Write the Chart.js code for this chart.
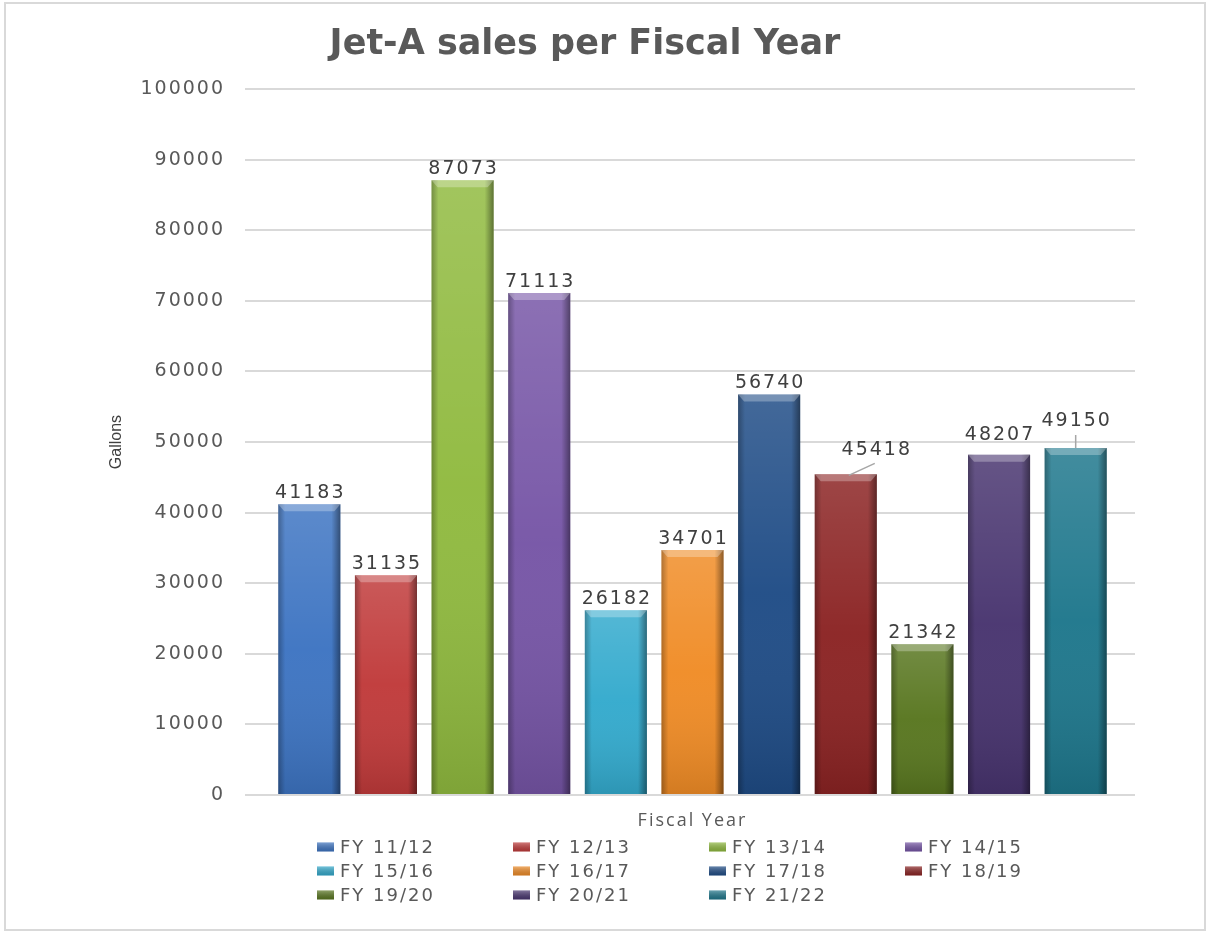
<!DOCTYPE html>
<html><head><meta charset="utf-8">
<script src="https://cdn.jsdelivr.net/npm/chart.js@4.4.1/dist/chart.umd.min.js"></script>
<style>html,body{margin:0;padding:0;background:#fff}#wrap{position:relative;width:1212px;height:933px}</style>
</head><body><div id="wrap"><canvas id="c"></canvas></div>
<script>
const categories = ['FY 11/12','FY 12/13','FY 13/14','FY 14/15','FY 15/16','FY 16/17','FY 17/18','FY 18/19','FY 19/20','FY 20/21','FY 21/22'];
const gallons = [41183, 31135, 87073, 71113, 26182, 34701, 56740, 45418, 21342, 48207, 49150];
const barColors = ['#3d74c2','#c03a3a','#90ba3f','#7655a6','#33aacd','#f08c26','#1f4c86','#8b2323','#58761f','#48346f','#1e778c'];
const yMin = 0, yMax = 100000, yStep = 10000;
const chartTitle = 'Jet-A sales per Fiscal Year';
const xTitle = 'Fiscal Year';
const yTitle = 'Gallons';

const GRID = '#d9d9d9';
const TXT = '#595959';

// label placement tweaks relative to each bar's top (drawn from library element positions)
const labelTweaks = {
  7: {dx: 30, dy: -13, line: [[3, 1], [29, -11]]},
  9: {dy: -9},
  10: {dy: -16, line: [[0, 0], [0, -13]]}
};

const barStyle = {
  id: 'barStyle',
  beforeDraw(chart) { chart.ctx.letterSpacing = '0px'; },
  afterDatasetsDraw(chart) {
    const ctx = chart.ctx;
    const meta = chart.getDatasetMeta(0);
    ctx.save();
    meta.data.forEach((el) => {
      const w = el.width, l = el.x - w / 2, r = el.x + w / 2, t = el.y, b = el.base;
      let g = ctx.createLinearGradient(0, t, 0, b);
      g.addColorStop(0, 'rgba(255,255,255,0.16)');
      g.addColorStop(0.5, 'rgba(255,255,255,0.03)');
      g.addColorStop(1, 'rgba(0,0,0,0.12)');
      ctx.fillStyle = g; ctx.fillRect(l, t, w, b - t);
      g = ctx.createLinearGradient(l, 0, l + 7, 0);
      g.addColorStop(0, 'rgba(0,0,0,0.28)'); g.addColorStop(1, 'rgba(0,0,0,0)');
      ctx.fillStyle = g; ctx.fillRect(l, t, 7, b - t);
      g = ctx.createLinearGradient(r - 9, 0, r, 0);
      g.addColorStop(0, 'rgba(0,0,0,0)'); g.addColorStop(1, 'rgba(0,0,0,0.42)');
      ctx.fillStyle = g; ctx.fillRect(r - 9, t, 9, b - t);
      ctx.beginPath();
      ctx.moveTo(l, t); ctx.lineTo(r, t); ctx.lineTo(r - 6, t + 7); ctx.lineTo(l + 6, t + 7); ctx.closePath();
      ctx.fillStyle = 'rgba(255,255,255,0.28)'; ctx.fill();
    });
    // data labels
    ctx.letterSpacing = '2px';
    ctx.font = '19px "DejaVu Sans"';
    ctx.fillStyle = '#404040';
    ctx.textAlign = 'center';
    ctx.textBaseline = 'alphabetic';
    meta.data.forEach((el, i) => {
      const tw = labelTweaks[i] || {};
      const dx = tw.dx || 0, dy = tw.dy || 0;
      ctx.fillText(String(gallons[i]), el.x + dx + 1, el.y - 6 + dy);
      if (tw.line) {
        ctx.strokeStyle = '#a6a6a6'; ctx.lineWidth = 1.5;
        ctx.beginPath();
        ctx.moveTo(el.x + tw.line[0][0], el.y + tw.line[0][1]);
        ctx.lineTo(el.x + tw.line[1][0], el.y + tw.line[1][1]);
        ctx.stroke();
      }
    });
    ctx.restore();
    ctx.letterSpacing = '2px';
  },
  afterDraw(chart) {
    const ctx = chart.ctx;
    ctx.save();
    // legend
    const cols = [317, 513, 709, 905], rows = [847, 871, 895];
    ctx.letterSpacing = '2px';
    ctx.font = '18px "DejaVu Sans"';
    ctx.textAlign = 'left';
    ctx.textBaseline = 'middle';
    categories.forEach((c, i) => {
      const x = cols[i % 4], y = rows[Math.floor(i / 4)];
      const g = ctx.createLinearGradient(0, y - 5, 0, y + 5);
      g.addColorStop(0, 'rgba(255,255,255,0.35)'); g.addColorStop(1, 'rgba(0,0,0,0.15)');
      ctx.fillStyle = barColors[i]; ctx.fillRect(x, y - 4.5, 17, 9);
      ctx.fillStyle = g; ctx.fillRect(x, y - 4.5, 17, 9);
      ctx.fillStyle = TXT;
      ctx.fillText(c, x + 23, y + 1);
    });
    // frame
    ctx.letterSpacing = '0px';
    ctx.strokeStyle = '#d9d9d9'; ctx.lineWidth = 2;
    ctx.strokeRect(5, 3, 1200, 927);
    ctx.restore();
    ctx.letterSpacing = '0px';
  }
};

new Chart(document.getElementById('c'), {
  type: 'bar',
  plugins: [barStyle],
  data: {
    labels: categories,
    datasets: [{
      label: 'Gallons',
      data: gallons,
      backgroundColor: barColors,
      borderWidth: 0,
      categoryPercentage: 1,
      barPercentage: 0.81
    }]
  },
  options: {
    responsive: true,
    maintainAspectRatio: false,
    animation: false,
    layout: {padding: {left: 0, right: 42, top: 0, bottom: 0}},
    plugins: {
      legend: {display: false},
      tooltip: {enabled: false},
      title: {
        display: true,
        text: chartTitle,
        color: TXT,
        font: {family: '"DejaVu Sans"', size: 35, weight: 'bold', lineHeight: 1.2},
        padding: {top: 24, bottom: 23}
      }
    },
    scales: {
      x: {
        type: 'category',
        grid: {display: false, drawTicks: false, z: 1},
        border: {display: false},
        ticks: {display: false},
        title: {display: true, text: xTitle, color: TXT,
          font: {family: '"Open Sans"', size: 18, lineHeight: 1.2},
          padding: {top: 0, bottom: 101}},
        afterFit(s) { s.height = 138; }
      },
      y: {
        position: 'left',
        min: yMin, max: yMax,
        ticks: {stepSize: yStep, color: TXT, padding: 20, z: 1,
          callback: (v) => String(v),
          font: {family: '"DejaVu Sans"', size: 19}},
        grid: {color: GRID, lineWidth: 2, drawTicks: true, tickLength: 26, tickColor: GRID},
        border: {display: false},
        title: {display: true, text: yTitle, color: '#404040',
          font: {family: '"Liberation Sans Narrow", "Liberation Sans"', size: 16, lineHeight: 1.2},
          padding: {top: 107, bottom: 0}},
        afterFit(s) { s.width = 271; }
      },
      y2: {
        position: 'right',
        min: yMin, max: yMax,
        ticks: {stepSize: yStep, display: false},
        grid: {drawOnChartArea: false, drawTicks: true, tickLength: 21, tickColor: GRID, lineWidth: 2},
        border: {display: false},
        afterFit(s) { s.width = 56; }
      }
    }
  }
});
</script>
</body></html>
